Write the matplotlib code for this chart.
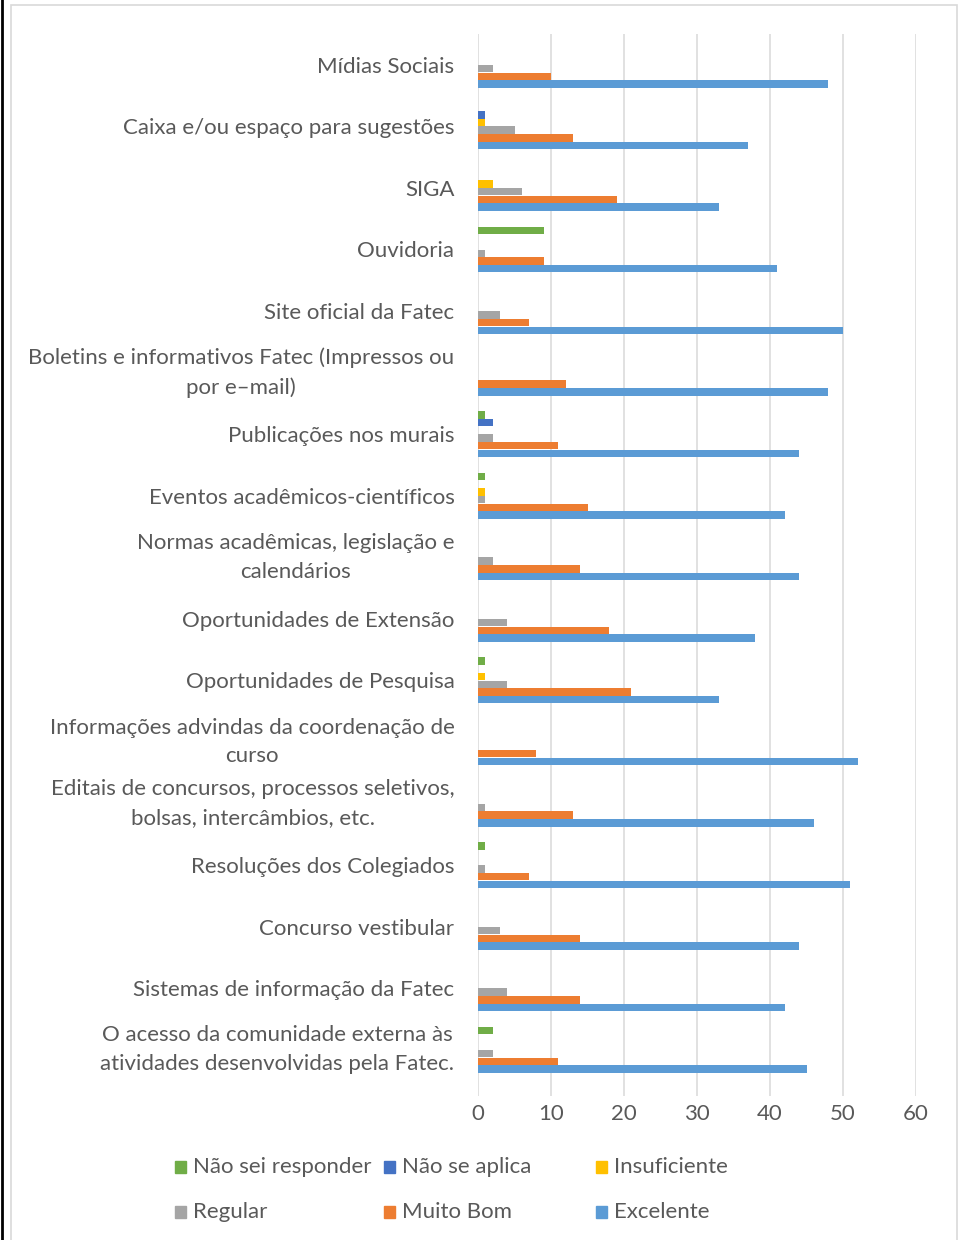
import matplotlib.pyplot as plt
from matplotlib.patches import Rectangle
from matplotlib.lines import Line2D

plt.rcParams['font.family'] = ['Lato', 'DejaVu Sans']

categories = [
    'Mídias Sociais',
    'Caixa e/ou espaço para sugestões',
    'SIGA',
    'Ouvidoria',
    'Site oficial da Fatec',
    'Boletins e informativos Fatec (Impressos ou\npor e–mail)',
    'Publicações nos murais',
    'Eventos acadêmicos-científicos',
    'Normas acadêmicas, legislação e\ncalendários',
    'Oportunidades de Extensão',
    'Oportunidades de Pesquisa',
    'Informações advindas da coordenação de\ncurso',
    'Editais de concursos, processos seletivos,\nbolsas, intercâmbios, etc.',
    'Resoluções dos Colegiados',
    'Concurso vestibular',
    'Sistemas de informação da Fatec',
    'O acesso da comunidade externa às\natividades desenvolvidas pela Fatec.',
]

# series, in legend order
nao_sei = [0, 0, 0, 9, 0, 0, 1, 1, 0, 0, 1, 0, 0, 1, 0, 0, 2]
nao_aplica = [0, 1, 0, 0, 0, 0, 2, 0, 0, 0, 0, 0, 0, 0, 0, 0, 0]
insuficiente = [0, 1, 2, 0, 0, 0, 0, 1, 0, 0, 1, 0, 0, 0, 0, 0, 0]
regular = [2, 5, 6, 1, 3, 0, 2, 1, 2, 4, 4, 0, 1, 1, 3, 4, 2]
muito_bom = [10, 13, 19, 9, 7, 12, 11, 15, 14, 18, 21, 8, 13, 7, 14, 14, 11]
excelente = [48, 37, 33, 41, 50, 48, 44, 42, 44, 38, 33, 52, 46, 51, 44, 42, 45]

series = [
    ('Não sei responder', nao_sei, '#70AD47'),
    ('Não se aplica', nao_aplica, '#4472C4'),
    ('Insuficiente', insuficiente, '#FFC000'),
    ('Regular', regular, '#A5A5A5'),
    ('Muito Bom', muito_bom, '#ED7D31'),
    ('Excelente', excelente, '#5B9BD5'),
]

text_color = '#595959'
fs = 16

fig = plt.figure(figsize=(9.6, 12.4), dpi=100)
ax = fig.add_axes([478 / 960, 1 - 1096 / 1240, 438 / 960, 1062 / 1240])

h = 0.125
for i, (name, vals, color) in enumerate(series):
    off = (i - 2.5) * h
    ax.barh([k + off for k in range(len(categories))], vals, height=h * 0.97,
            color=color, edgecolor='none', zorder=3)

ax.set_xlim(0, 60)
ax.set_ylim(len(categories) - 0.25, -0.5)
ax.set_xticks(range(0, 61, 10))
ax.set_yticks(range(len(categories)))
ax.set_yticklabels(categories, multialignment='center', linespacing=1.55)
for lab in ax.get_yticklabels():
    if '\n' in lab.get_text():
        lab.set_verticalalignment('center')
ax.tick_params(length=0, labelsize=fs, labelcolor=text_color)
ax.tick_params(axis='y', pad=17)
ax.tick_params(axis='x', pad=6)
ax.grid(axis='x', color='#d9d9d9', linewidth=1.1, zorder=0)
for s in ax.spines.values():
    s.set_visible(False)

# legend, equal-width columns like the original
col_x = [180, 389, 601]
row_y = [1167, 1212]
for i, (name, vals, color) in enumerate(series):
    x = col_x[i % 3] / 960
    y = 1 - row_y[i // 3] / 1240
    fig.add_artist(Rectangle((x - 5 / 960, y - 6 / 1240), 11 / 960, 12 / 1240,
                             transform=fig.transFigure, color=color))
    fig.text(x + 13 / 960, y, name, fontsize=fs, color=text_color,
             va='center', ha='left')

# chart frame and page border
fig.add_artist(Rectangle((11 / 960, -0.01), 946 / 960, 1 - 5 / 1240 + 0.01,
                         transform=fig.transFigure, fill=False,
                         edgecolor='#d9d9d9', linewidth=1.2))
fig.add_artist(Line2D([2 / 960, 2 / 960], [0, 1], transform=fig.transFigure,
                      color='black', linewidth=2))

fig.savefig('out.png', dpi=100)
